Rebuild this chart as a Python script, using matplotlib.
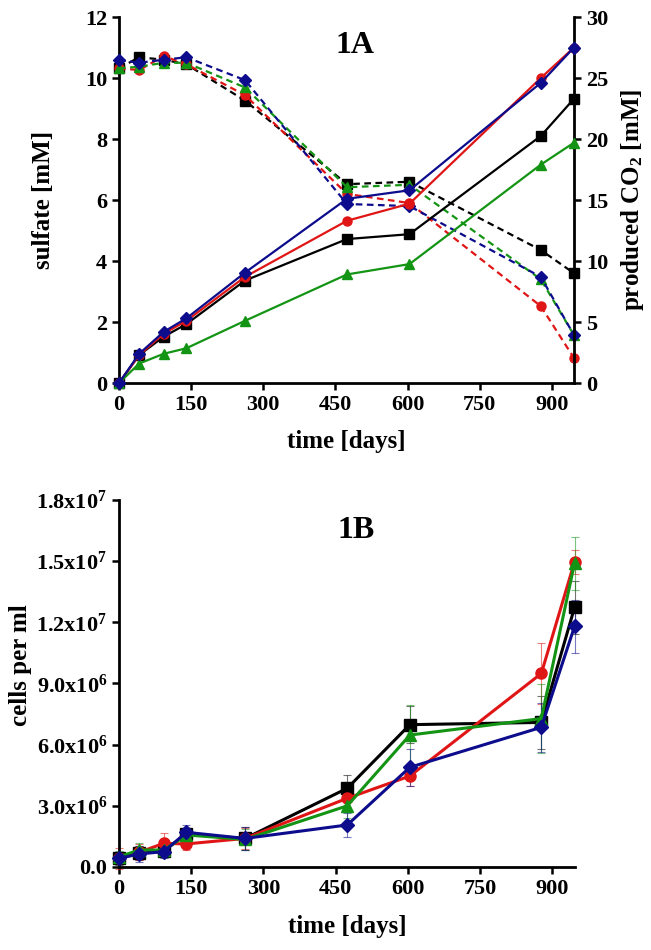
import numpy as np
import matplotlib
matplotlib.use('Agg')
from matplotlib import pyplot as plt

plt.rcParams['font.family'] = ['Liberation Serif', 'DejaVu Serif']
plt.rcParams['font.weight'] = 'bold'
plt.rcParams['mathtext.fontset'] = 'custom'
plt.rcParams['mathtext.rm'] = 'Liberation Serif:bold'
plt.rcParams['mathtext.bf'] = 'Liberation Serif:bold'
plt.rcParams['mathtext.default'] = 'bf'

# time points [days]
days = [0, 42, 93, 140, 262, 474, 604, 877, 946]

# sulfate [mM] (dashed, left axis)
sulfate_black = [10.32, 10.68, 10.60, 10.45, 9.26, 6.52, 6.60, 4.36, 3.60]
sulfate_red = [10.32, 10.26, 10.72, 10.45, 9.44, 6.20, 5.90, 2.52, 0.82]
sulfate_green = [10.32, 10.37, 10.50, 10.50, 9.69, 6.42, 6.50, 3.40, 1.57]
sulfate_blue = [10.59, 10.50, 10.60, 10.68, 9.93, 5.87, 5.80, 3.48, 1.57]

# produced CO2 [mM] (solid, right axis)
co2_black = [0, 2.3, 3.8, 4.83, 8.4, 11.8, 12.2, 20.25, 23.3]
co2_red = [0, 2.3, 4.05, 5.1, 8.7, 13.3, 14.7, 25.0, 27.5]
co2_green = [0, 1.6, 2.4, 2.85, 5.1, 8.9, 9.75, 17.9, 19.7]
co2_blue = [0, 2.4, 4.2, 5.3, 9.05, 15.1, 15.8, 24.6, 27.5]

# cells per ml (x1e6)
cells_black = [0.42, 0.70, 0.80, 1.60, 1.40, 3.86, 6.98, 7.09, 12.73]
cells_red = [0.42, 0.72, 1.16, 1.13, 1.40, 3.37, 4.46, 9.49, 14.97]
cells_green = [0.50, 0.83, 0.83, 1.57, 1.35, 3.00, 6.47, 7.28, 14.90]
cells_blue = [0.42, 0.64, 0.75, 1.70, 1.40, 2.06, 4.89, 6.85, 11.80]

err_black = [0.30, 0.35, 0.30, 0.30, 0.55, 0.64, 0.90, 1.30, 1.30]
err_red = [0.50, 0.40, 0.50, 0.30, 0.50, 0.64, 0.50, 1.50, 0.60]
err_green = [0.30, 0.35, 0.30, 0.30, 0.50, 0.60, 1.47, 1.70, 1.30]
err_blue = [0.25, 0.40, 0.30, 0.35, 0.55, 0.58, 0.90, 1.20, 1.30]

colors = ['#000000', '#e01515', '#149414', '#0c0c8c']
markers = ['s', 'o', '^', 'D']

x_ticks = [0, 150, 300, 450, 600, 750, 900]

fig = plt.figure(figsize=(6.51, 9.5), dpi=100)

# ---------------- 1A ----------------
ax1 = fig.add_axes([0.1828, 0.5968, 0.6989, 0.3853])
ax2 = ax1.twinx()

sulfates = [sulfate_black, sulfate_red, sulfate_green, sulfate_blue]
co2s = [co2_black, co2_red, co2_green, co2_blue]

for s, c, m in zip(sulfates, colors, markers):
    ax1.plot(days, s, color=c, marker=m, ms=6.5 if m != 'D' else 6,
             lw=1.6, ls=(0, (3, 2)), clip_on=False, zorder=3)
for v, c, m in zip(co2s, colors, markers):
    ax2.plot(days, v, color=c, marker=m, ms=6.5 if m != 'D' else 6,
             lw=1.6, clip_on=False, zorder=3)

ax1.set_xlim(0, 946)
ax1.set_ylim(0, 12)
ax2.set_ylim(0, 30)
ax1.set_xticks(x_ticks)
ax1.set_yticks([0, 2, 4, 6, 8, 10, 12])
ax2.set_yticks([0, 5, 10, 15, 20, 25, 30])

for a in (ax1, ax2):
    a.spines['top'].set_visible(False)
    for sp in a.spines.values():
        sp.set_linewidth(2)
    a.tick_params(width=1.8, length=5, labelsize=16, direction='out')
ax1.spines['right'].set_visible(False)
ax2.spines['left'].set_visible(False)
ax2.spines['bottom'].set_visible(False)

ax1.set_ylabel('sulfate [mM]', fontsize=18, fontweight='bold')
ax1.yaxis.set_label_coords(-0.14, 0.5)
ax2.set_ylabel('produced CO$_2$ [mM]', fontsize=18, fontweight='bold')
ax2.yaxis.set_label_coords(1.10, 0.5)
ax1.set_xlabel('time [days]', fontsize=18, fontweight='bold')
ax1.xaxis.set_label_coords(0.5, -0.128)
ax1.text(0.519, 0.923, '1A', transform=ax1.transAxes, fontsize=23,
         fontweight='bold', ha='center', va='center')

# ---------------- 1B ----------------
ax3 = fig.add_axes([0.1828, 0.0874, 0.7005, 0.3863])

cells = [cells_black, cells_red, cells_green, cells_blue]
errs = [err_black, err_red, err_green, err_blue]

for v, e, c, m in zip(cells, errs, colors, markers):
    y = np.array(v) * 1e6
    ax3.errorbar(days, y, yerr=np.array(e) * 1e6, fmt='none',
                 ecolor=c, elinewidth=0.8, capsize=3, capthick=0.8,
                 alpha=0.55, clip_on=False, zorder=2)
    ax3.plot(days, y, color=c, marker=m, ms=8 if m != 'D' else 7, lw=2.2,
             clip_on=False, zorder=3)

ax3.set_xlim(0, 947)
ax3.set_ylim(0, 1.8e7)
ax3.set_xticks(x_ticks)
y_ticks = [0, 3e6, 6e6, 9e6, 1.2e7, 1.5e7, 1.8e7]
y_labels = ['0.0', '3.0x10$^6$', '6.0x10$^6$', '9.0x10$^6$',
            '1.2x10$^7$', '1.5x10$^7$', '1.8x10$^7$']
ax3.set_yticks(y_ticks)
ax3.set_yticklabels(y_labels)
ax3.spines['top'].set_visible(False)
ax3.spines['right'].set_visible(False)
for sp in ax3.spines.values():
    sp.set_linewidth(2)
ax3.tick_params(width=1.8, length=5, labelsize=16, direction='out')

ax3.set_ylabel('cells per ml', fontsize=18, fontweight='bold')
ax3.yaxis.set_label_coords(-0.19, 0.55)
ax3.set_xlabel('time [days]', fontsize=18, fontweight='bold')
ax3.xaxis.set_label_coords(0.5, -0.131)
ax3.text(0.519, 0.918, '1B', transform=ax3.transAxes, fontsize=23,
         fontweight='bold', ha='center', va='center')

plt.savefig('out.png', dpi=100)
